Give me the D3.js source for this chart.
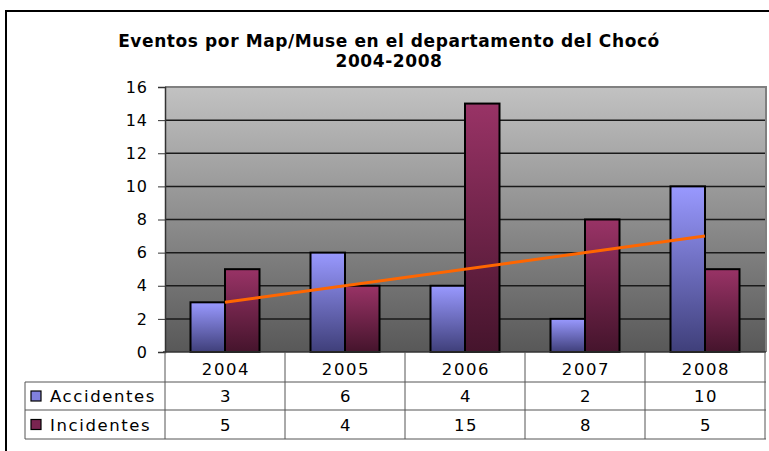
<!DOCTYPE html>
<html>
<head>
<meta charset="utf-8">
<script src="https://cdn.jsdelivr.net/npm/d3@7"></script>
<style>
  body { margin: 0; background: #fff; }
  svg { display: block; }
</style>
</head>
<body>
<svg width="769" height="451"></svg>
<script>
const years = ['2004', '2005', '2006', '2007', '2008'];
const seriesNames = ['Accidentes', 'Incidentes'];
const accidentes = [3, 6, 4, 2, 10];
const incidentes = [5, 4, 15, 8, 5];
const yTicks = [0, 2, 4, 6, 8, 10, 12, 14, 16];
const titleLines = ['Eventos por Map/Muse en el departamento del Chocó', '2004-2008'];

const svg = d3.select('svg');
const font = '"DejaVu Sans", Verdana, sans-serif';

const plot = {left: 165, right: 766, top: 87, bottom: 352};

const xScale = d3.scaleBand()
    .domain(years)
    .range([plot.left, plot.left + 600]);

const xInner = d3.scaleBand()
    .domain(seriesNames)
    .range([25.5, 94.5]);

const yScale = d3.scaleLinear()
    .domain([0, 16])
    .range([plot.bottom, plot.top]);

const colors = {
    Accidentes: ['#9999ff', '#3f3f7a'],
    Incidentes: ['#993366', '#45142c']
};
const keyColors = {Accidentes: '#8080dd', Incidentes: '#7a2450'};

const defs = svg.append('defs');
const addGrad = (id, top, bottom) => {
    const g = defs.append('linearGradient')
        .attr('id', id).attr('x1', 0).attr('y1', 0).attr('x2', 0).attr('y2', 1);
    g.append('stop').attr('offset', '0%').attr('stop-color', top);
    g.append('stop').attr('offset', '100%').attr('stop-color', bottom);
};
addGrad('bg', '#c2c2c2', '#585858');
seriesNames.forEach(s => addGrad('g-' + s, colors[s][0], colors[s][1]));

// outer frame
svg.append('rect')
    .attr('x', 6).attr('y', 11)
    .attr('width', 780).attr('height', 460)
    .attr('fill', '#fff').attr('stroke', '#000').attr('stroke-width', 2);

// title
svg.append('g').selectAll('text').data(titleLines)
    .enter().append('text')
        .attr('x', 389)
        .attr('y', (d, i) => 47 + i * 20)
        .attr('text-anchor', 'middle')
        .attr('font-family', font)
        .attr('font-weight', 'bold')
        .attr('font-size', 17)
        .attr('letter-spacing', 0.6)
        .text(d => d);

// plot background
svg.append('rect')
    .attr('x', plot.left).attr('y', plot.top)
    .attr('width', plot.right - plot.left).attr('height', plot.bottom - plot.top)
    .attr('fill', 'url(#bg)');

// gridlines
svg.append('g').selectAll('line').data(yTicks.filter(t => t > 0 && t < 16))
    .enter().append('line')
        .attr('x1', plot.left).attr('x2', plot.right)
        .attr('y1', d => yScale(d)).attr('y2', d => yScale(d))
        .attr('stroke', '#1a1a1a').attr('stroke-width', 1.5);

// plot border top/right
svg.append('path')
    .attr('d', `M${plot.left},${plot.top}H${plot.right}V${plot.bottom}`)
    .attr('fill', 'none').attr('stroke', '#808080').attr('stroke-width', 2);

// bars
const values = {Accidentes: accidentes, Incidentes: incidentes};
const barData = [];
years.forEach((y, i) => seriesNames.forEach(s => barData.push({year: y, series: s, value: values[s][i]})));

svg.append('g').selectAll('rect').data(barData)
    .enter().append('rect')
        .attr('x', d => xScale(d.year) + xInner(d.series))
        .attr('y', d => yScale(d.value))
        .attr('width', xInner.bandwidth())
        .attr('height', d => yScale(0) - yScale(d.value))
        .attr('fill', d => `url(#g-${d.series})`)
        .attr('stroke', '#000').attr('stroke-width', 2);

// linear trendline of Accidentes
const xs = years.map((d, i) => i + 1);
const mx = d3.mean(xs), my = d3.mean(accidentes);
const slope = d3.sum(xs, (x, i) => (x - mx) * (accidentes[i] - my)) / d3.sum(xs, x => (x - mx) ** 2);
const intercept = my - slope * mx;
const trend = years.map((y, i) => ({year: y, value: intercept + slope * xs[i]}));
const trendEnds = [trend[0], trend[trend.length - 1]];

svg.append('path')
    .datum(trendEnds)
    .attr('d', d3.line()
        .x(d => xScale(d.year) + xScale.bandwidth() / 2)
        .y(d => yScale(d.value)))
    .attr('fill', 'none').attr('stroke', '#ff6600').attr('stroke-width', 3);

// y axis
const yAxis = d3.axisLeft(yScale).tickValues(yTicks).tickSize(7).tickPadding(10);
const yg = svg.append('g')
    .attr('transform', `translate(${plot.left},0)`)
    .call(yAxis);
yg.select('.domain').attr('stroke', '#333').attr('stroke-width', 1.5);
yg.selectAll('.tick line').attr('stroke', '#333');
yg.selectAll('.tick text')
    .attr('font-family', font).attr('font-size', 16)
    .attr('letter-spacing', 1).attr('fill', '#000');

// data table
const rowY = [352, 382, 410, 439];
const tableLeft = 25;
const tg = svg.append('g');
const lineColor = '#555';

tg.append('line').attr('x1', plot.left - 2).attr('x2', plot.right)
    .attr('y1', rowY[0]).attr('y2', rowY[0]).attr('stroke', '#333').attr('stroke-width', 1.5);
rowY.slice(1).forEach(y => {
    tg.append('line').attr('x1', tableLeft).attr('x2', plot.right)
        .attr('y1', y).attr('y2', y).attr('stroke', lineColor).attr('stroke-width', 1);
});
const colEdges = years.map(y => xScale(y)).concat([xScale(years[years.length - 1]) + xScale.bandwidth()]);
tg.selectAll('.vline').data(colEdges)
    .enter().append('line')
        .attr('x1', d => d).attr('x2', d => d)
        .attr('y1', rowY[0]).attr('y2', rowY[3])
        .attr('stroke', lineColor).attr('stroke-width', 1);
tg.append('line').attr('x1', tableLeft).attr('x2', tableLeft)
    .attr('y1', rowY[1]).attr('y2', rowY[3]).attr('stroke', lineColor);

const cellText = (x, y, txt, anchor) => tg.append('text')
    .attr('x', x).attr('y', y)
    .attr('text-anchor', anchor)
    .attr('font-family', font).attr('font-size', 16.5)
    .attr('letter-spacing', 1.6)
    .attr('fill', '#000')
    .text(txt);

years.forEach(y => cellText(xScale(y) + xScale.bandwidth() / 2 + 1, 375, y, 'middle'));
seriesNames.forEach((s, r) => {
    const yMid = (rowY[r + 1] + rowY[r + 2]) / 2;
    tg.append('rect')
        .attr('x', 31).attr('y', yMid - 5)
        .attr('width', 10).attr('height', 10)
        .attr('fill', keyColors[s])
        .attr('stroke', '#000').attr('stroke-width', 1.2);
    cellText(50, yMid + 6, s, 'start');
    values[s].forEach((v, i) => cellText(xScale(years[i]) + xScale.bandwidth() / 2 + 1, yMid + 6, v, 'middle'));
});
</script>
</body>
</html>
